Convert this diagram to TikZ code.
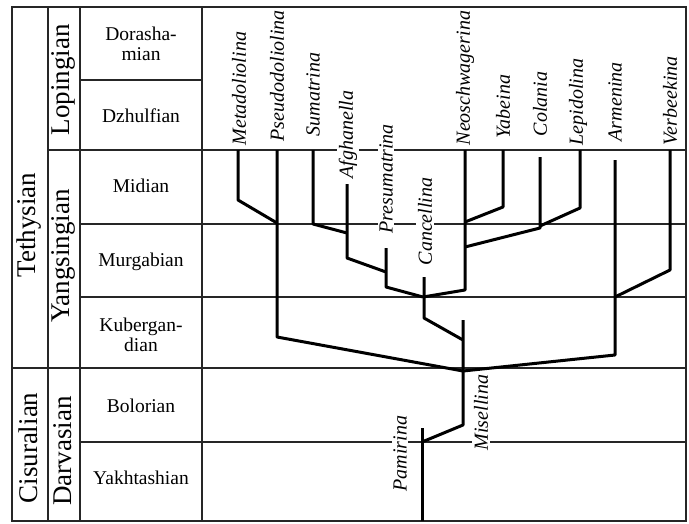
\documentclass[tikz,border=0pt]{standalone}
\usepackage{fontspec}
\setmainfont{Liberation Serif}
\begin{document}
\begin{tikzpicture}[x=1pt,y=-1pt,
  grid/.style={line width=1.4pt, black!85},
  branch/.style={line width=3pt, line join=round},
  stage/.style={font=\fontsize{19.5}{20}\selectfont, align=center, inner sep=0pt},
  series/.style={font=\fontsize{27}{28}\selectfont, rotate=90, inner sep=0pt},
  genus/.style={font=\fontsize{20}{20}\selectfont\itshape, rotate=90, anchor=west, fill=white, inner sep=1.5pt}]
\useasboundingbox (0,0) rectangle (689,523);
\fill[white] (0,0) rectangle (689,523);

% frame and columns
\draw[grid] (12,7) rectangle (686,521);
\draw[grid] (48,7) -- (48,521);
\draw[grid] (80,7) -- (80,521);
\draw[grid] (202,7) -- (202,521);
% stage boundaries
\draw[grid] (80,80) -- (202,80);
\draw[grid] (48,150) -- (686,150);
\draw[grid] (80,224) -- (686,224);
\draw[grid] (80,297) -- (686,297);
\draw[grid] (12,368) -- (686,368);
\draw[grid] (80,442) -- (686,442);

% regional scale
\node[series] (teth) at (29,225) {Tethysian};
\node[series] (cisu) at (28,448) {Cisuralian};
\node[series] (lop)  at (63,80)  {Lopingian};
\node[series] (yang) at (63,256) {Yangsingian};
\node[series] (darv) at (63,451) {Darvasian};

\node[stage] (dor) at (141,44)  {Dorasha-\\mian};
\node[stage] (dzh) at (141,116) {Dzhulfian};
\node[stage] (mid) at (141,186) {Midian};
\node[stage] (mur) at (141,262) {Murgabian};
\node[stage] (kub) at (141,335) {Kubergan-\\dian};
\node[stage] (bol) at (141,406) {Bolorian};
\node[stage] (yak) at (141,478) {Yakhtashian};

% genus names
\node[genus] (meta) at (239,147) {Metadoliolina};
\node[genus] (pseu) at (277,143) {Pseudodoliolina};
\node[genus] (suma) at (313,138) {Sumatrina};
\node[genus] (afgh) at (348,180) {Afghanella};
\node[genus] (pres) at (386,235) {Presumatrina};
\node[genus] (canc) at (425,267) {Cancellina};
\node[genus] (neos) at (465,147) {Neoschwagerina};
\node[genus] (yabe) at (503,140) {Yabeina};
\node[genus] (cola) at (540,138) {Colania};
\node[genus] (lepi) at (578,147) {Lepidolina};
\node[genus] (arme) at (615,143) {Armenina};
\node[genus] (verb) at (670,147) {Verbeekina};
\node[genus] (mise) at (481,452) {Misellina};
\node[genus] (pami) at (400,493) {Pamirina};

% branch points
\coordinate (jPam)  at (422,442);
\coordinate (jMis)  at (463,371);
\coordinate (jCan)  at (463,340);
\coordinate (jPre)  at (423,297);
\coordinate (jAfg)  at (386,272);
\coordinate (jSum)  at (347,233);
\coordinate (jPse)  at (277,223);
\coordinate (jYab)  at (465,222);
\coordinate (jCol)  at (465,247);
\coordinate (jLep)  at (540,226);
\coordinate (jVer)  at (615,297);

% phylogeny
\draw[branch] (422,428) -- (422,521);
\draw[branch] (463,320) -- (463,425) -- (jPam);
\draw[branch] (277,150) -- (277,337) -- (jMis);
\draw[branch] (615,160) -- (615,355) -- (jMis);
\draw[branch] (238,150) -- (238,200) -- (jPse);
\draw[branch] (313,150) -- (313,224) -- (jSum);
\draw[branch] (347,184) -- (347,258) -- (jAfg);
\draw[branch] (386,248) -- (386,287) -- (jPre);
\draw[branch] (424,277) -- (424,318) -- (jCan);
\draw[branch] (465,150) -- (465,290) -- (jPre);
\draw[branch] (503,150) -- (503,207) -- (jYab);
\draw[branch] (540,157) -- (540,228) -- (jCol);
\draw[branch] (580,150) -- (580,208) -- (jLep);
\draw[branch] (670,150) -- (670,270) -- (jVer);
\end{tikzpicture}
\end{document}
